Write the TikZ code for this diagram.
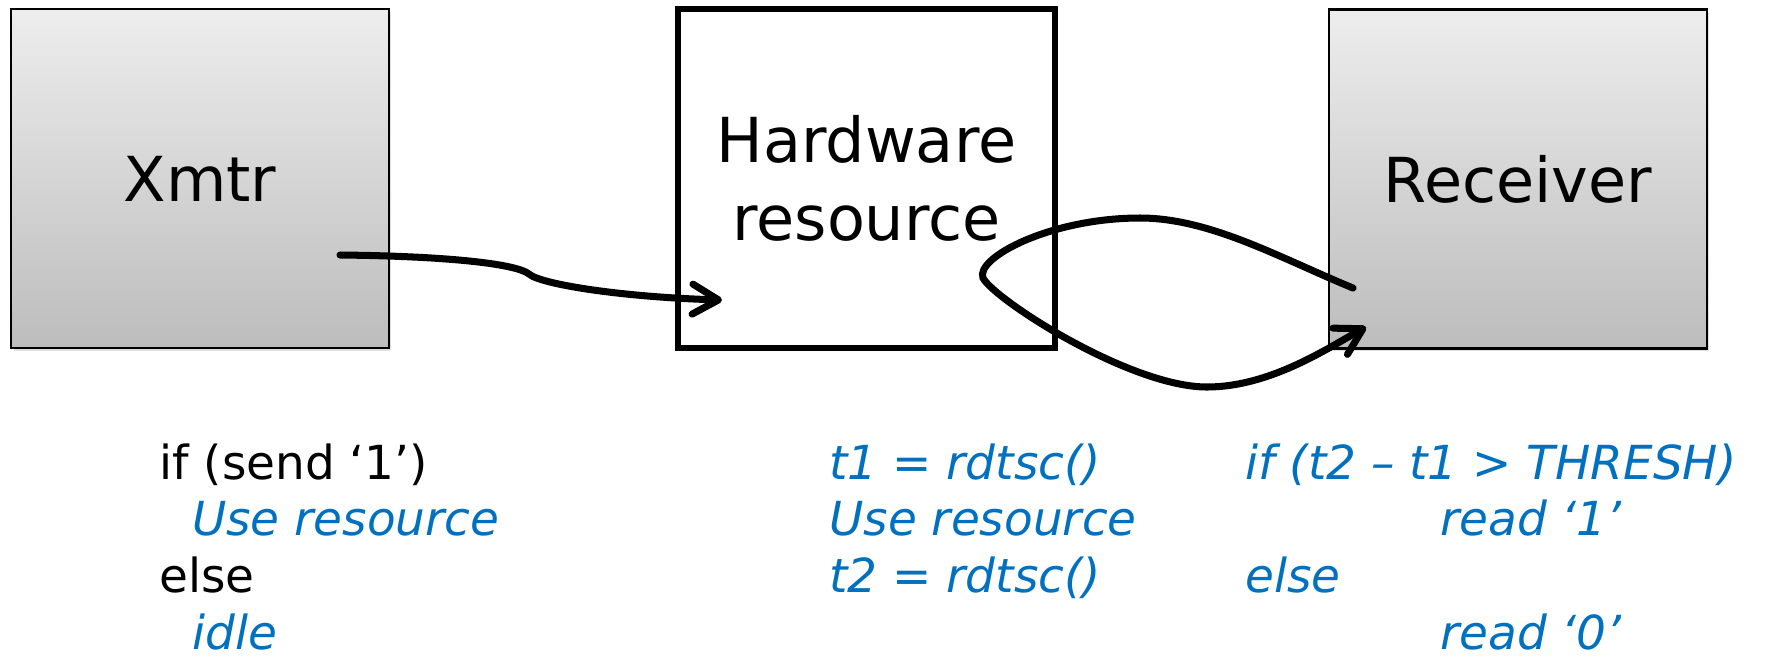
\documentclass[tikz,border=0pt]{standalone}
\usepackage{fontspec}
\setmainfont{DejaVu Sans}
\usepackage{tikz}
\usetikzlibrary{calc}
\usetikzlibrary{arrows.meta}
\usetikzlibrary{shadows}
\definecolor{MyBlue}{rgb}{0,0.44,0.75}
\definecolor{MyLightGrey}{rgb}{0.93,0.93,0.93}
\definecolor{MyMidGrey}{rgb}{0.74,0.74,0.74}
\newcommand{\boxfont}{\fontsize{35.3}{44.4}\selectfont}
\newcommand{\codefont}{\fontsize{26.7}{32.4}\selectfont}
\newcommand{\blueit}[1]{\textcolor{MyBlue}{\itshape #1}}

\begin{document}
\begin{tikzpicture}[x=0.02cm, y=-0.02cm]
  \useasboundingbox (0,0) rectangle (1785,657);
  \tikzstyle{every node}=[font=\boxfont]
  \tikzstyle{greybox}=[draw=black, line width=1.2pt, top color=MyLightGrey, bottom color=MyMidGrey,
    minimum width=7.56cm, minimum height=6.78cm,
    drop shadow={shadow xshift=0.05cm, shadow yshift=-0.06cm, opacity=0.25}]
  \tikzstyle{hwbox}=[draw=black, line width=3pt, fill=white, align=center,
    minimum width=7.54cm, minimum height=6.78cm]
  \tikzstyle{code}=[font=\codefont, inner sep=0pt, anchor=base west]
  \tikzstyle{link}=[draw=black, line width=4pt, line cap=round,
    -{Straight Barb[round, length=0.52cm, width=0.6cm]}]

  % the three parties
  \node[greybox] (xmtr) at (200,178.5) {Xmtr};
  \node[hwbox] (hw) at (866.5,178.5) {Hardware\\resource};
  \node[greybox] (rcv) at (1518,179) {Receiver};

  % ends of the two arrows
  \coordinate (sendout) at (340,255);
  \coordinate (hwin) at (722,300);
  \coordinate (probeout) at (1353,288);
  \coordinate (probein) at (1366,327);

  \draw[link] (sendout) .. controls (440,256) and (515,263) .. (529,274)
    .. controls (540,284) and (620,297) .. (hwin);
  \draw[link] (probeout) .. controls (1280,258) and (1210,218) .. (1140,218)
    .. controls (1050,218) and (975,258) .. (983,278)
    .. controls (995,300) and (1130,387) .. (1207,387)
    .. controls (1270,387) and (1328,348) .. (probein);

  % code below the boxes
  \node[code] (sendcode) at (159,479) {\begin{tabular}[t]{@{}l@{}}
    if (send ‘1’)\\
    \hspace*{0.7em}\blueit{Use resource}\\
    else\\
    \hspace*{0.7em}\blueit{idle}
  \end{tabular}};
  \node[code] (timecode) at (829,479) {\begin{tabular}[t]{@{}l@{}}
    \blueit{t1 = rdtsc()}\\
    \blueit{Use resource}\\
    \blueit{t2 = rdtsc()}
  \end{tabular}};
  \node[code] (readcode) at (1245,479) {\begin{tabular}[t]{@{}l@{}}
    \blueit{if (t2 – t1 > THRESH)}\\
    \hspace*{3.9cm}\blueit{read ‘1’}\\
    \blueit{else}\\
    \hspace*{3.9cm}\blueit{read ‘0’}
  \end{tabular}};
\end{tikzpicture}
\end{document}
